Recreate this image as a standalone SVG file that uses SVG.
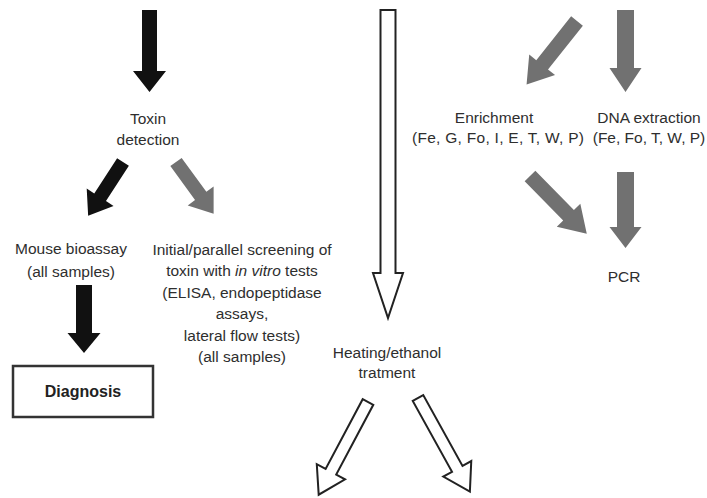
<svg xmlns="http://www.w3.org/2000/svg" width="707" height="498" viewBox="0 0 707 498">
<style>
text{font-family:"Liberation Sans",Arial,sans-serif;font-size:15.5px;fill:#2e2e2e;text-anchor:middle}
.blk{fill:#111}
.gry{fill:#717171}
.hol{fill:#fff;stroke:#222;stroke-width:2;stroke-linejoin:miter}
.box{fill:#fff;stroke:#333;stroke-width:2.5}
.b{font-weight:bold;font-size:16px;fill:#222}
</style>
<rect width="707" height="498" fill="#fff"/>
<g id="connectors">
  <path class="blk" transform="translate(149.5,10)" d="M-7.5,0 L7.5,0 L7.5,61 L16.5,61 L0,82 L-16.5,61 L-7.5,61 Z"/>
  <path class="blk" transform="translate(123,162) rotate(33)" d="M-7,0 L7,0 L7,42 L16,42 L0,64 L-16,42 L-7,42 Z"/>
  <path class="gry" transform="translate(176,162) rotate(-36)" d="M-7,0 L7,0 L7,42 L16,42 L0,64 L-16,42 L-7,42 Z"/>
  <path class="blk" transform="translate(84,285)" d="M-8,0 L8,0 L8,48 L16.5,48 L0,68 L-16.5,48 L-8,48 Z"/>
  <path class="hol" transform="translate(388,10)" d="M-7.5,0 L7.5,0 L7.5,263 L15,263 L0,308 L-15,263 L-7.5,263 Z"/>
  <path class="hol" transform="translate(368,402) rotate(28)" d="M-6,0 L6,0 L6,79 L16,79 L0,105 L-16,79 L-6,79 Z"/>
  <path class="hol" transform="translate(418,398) rotate(-29)" d="M-6,0 L6,0 L6,81 L16,81 L0,107 L-16,81 L-6,81 Z"/>
  <path class="gry" transform="translate(577,21) rotate(38.5)" d="M-7.5,0 L7.5,0 L7.5,56 L16.5,56 L0,81 L-16.5,56 L-7.5,56 Z"/>
  <path class="gry" transform="translate(625.5,10)" d="M-8.5,0 L8.5,0 L8.5,58 L16,58 L0,82 L-16,58 L-8.5,58 Z"/>
  <path class="gry" transform="translate(530,176) rotate(-44.5)" d="M-7.5,0 L7.5,0 L7.5,55 L16.5,55 L0,81 L-16.5,55 L-7.5,55 Z"/>
  <path class="gry" transform="translate(625.5,172)" d="M-8.5,0 L8.5,0 L8.5,55 L16,55 L0,76 L-16,55 L-8.5,55 Z"/>
</g>
<g id="toxin-detection">
  <text x="148" y="124">Toxin</text>
  <text x="148" y="145">detection</text>
</g>
<g id="mouse-bioassay">
  <text x="71" y="254">Mouse bioassay</text>
  <text x="71" y="277">(all samples)</text>
</g>
<g id="screening">
  <text x="242" y="255">Initial/parallel screening of</text>
  <text x="242" y="276">toxin with <tspan font-style="italic">in vitro</tspan> tests</text>
  <text x="242" y="298">(ELISA, endopeptidase</text>
  <text x="242" y="319">assays,</text>
  <text x="242" y="341">lateral flow tests)</text>
  <text x="242" y="362">(all samples)</text>
</g>
<g id="diagnosis">
  <rect class="box" x="13" y="366" width="140" height="51"/>
  <text class="b" x="83" y="397">Diagnosis</text>
</g>
<g id="heating">
  <text x="387" y="358">Heating/ethanol</text>
  <text x="387" y="378">tratment</text>
</g>
<g id="enrichment">
  <text x="494" y="123">Enrichment</text>
  <text x="498" y="143" textLength="172" lengthAdjust="spacing">(Fe, G, Fo, I, E, T, W, P)</text>
</g>
<g id="dna-extraction">
  <text x="649" y="123">DNA extraction</text>
  <text x="649" y="143">(Fe, Fo, T, W, P)</text>
</g>
<g id="pcr">
  <text x="624" y="282">PCR</text>
</g>
</svg>
